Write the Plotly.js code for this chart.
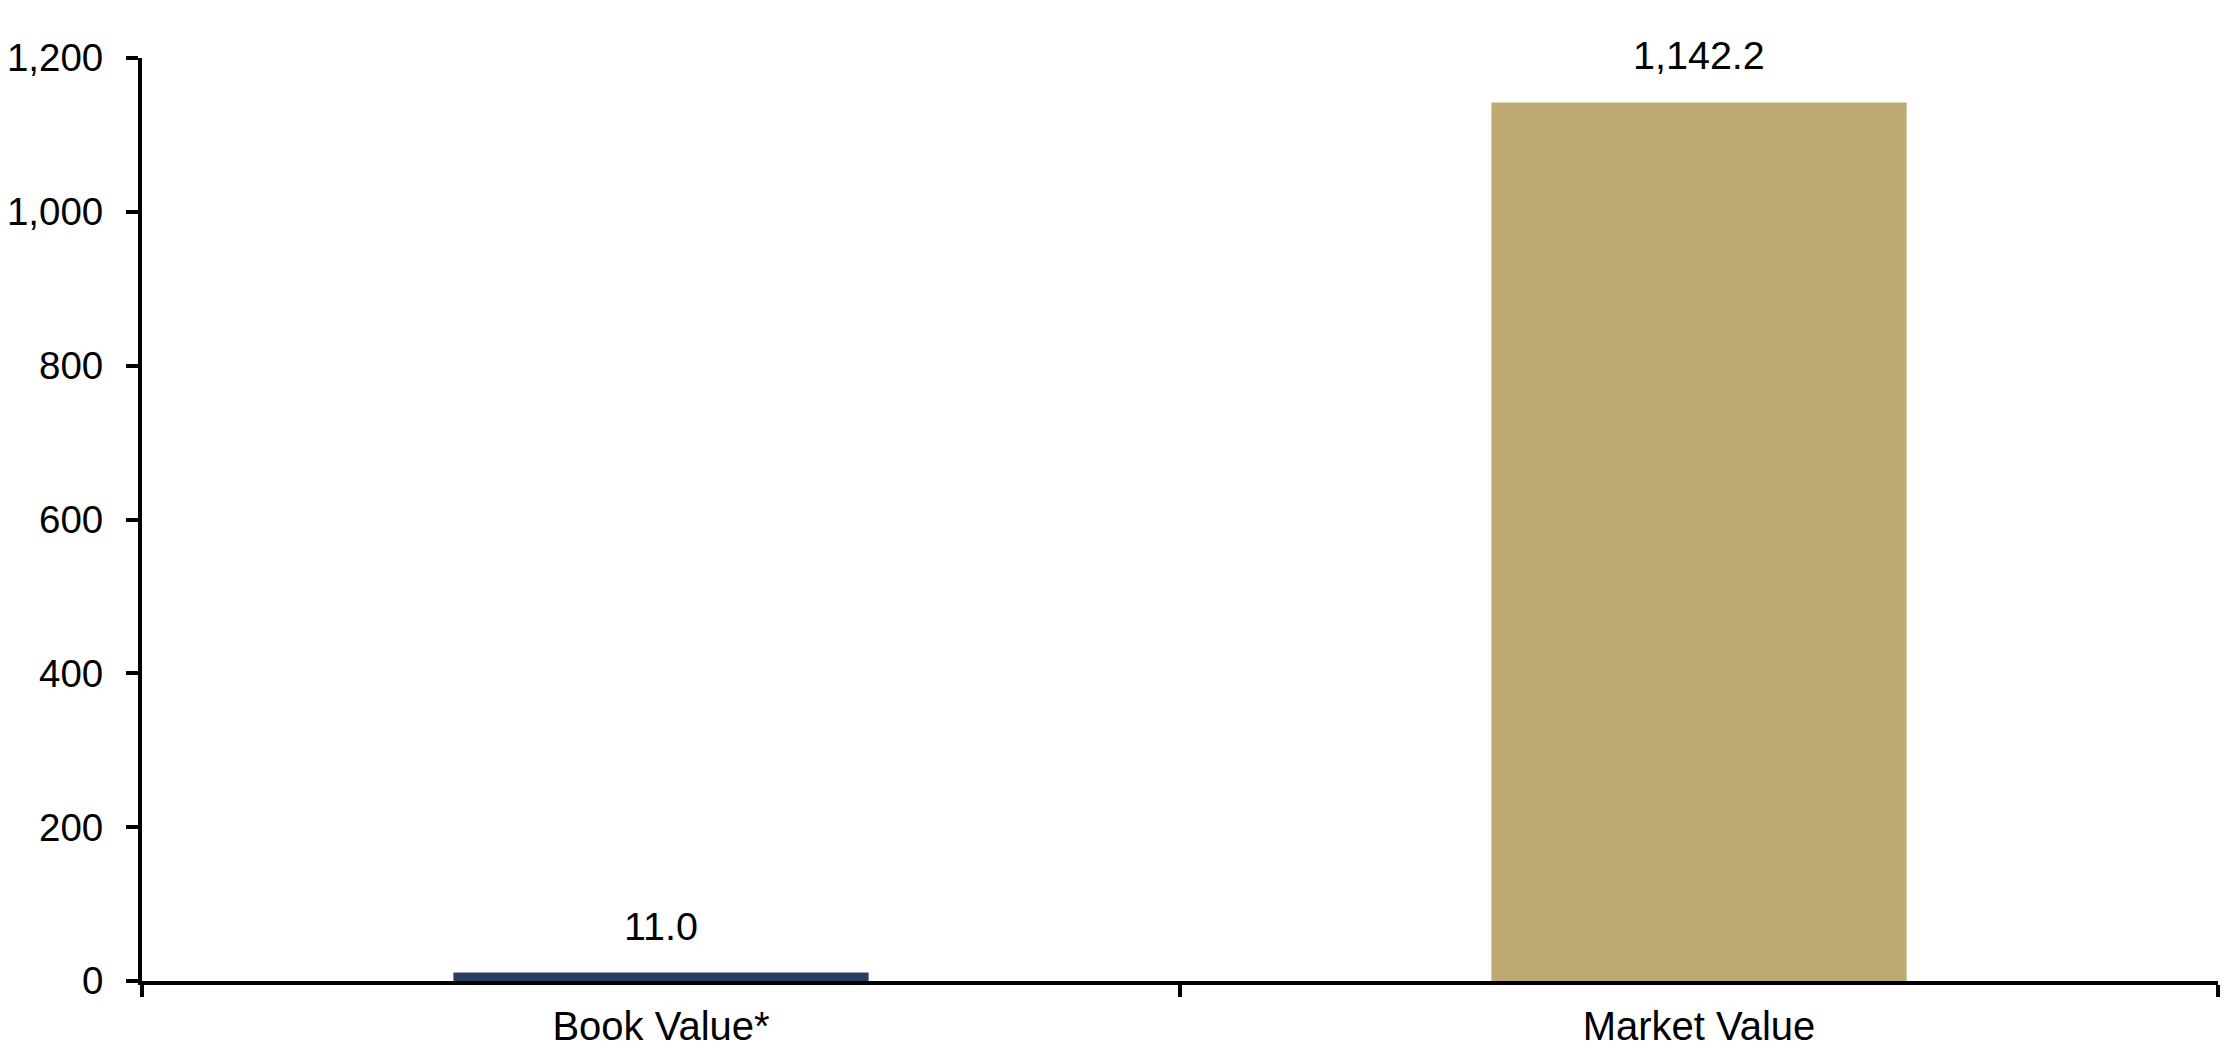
<!DOCTYPE html>
<html>
<head>
<meta charset="utf-8">
<script src="https://cdn.plot.ly/plotly-3.0.1.min.js"></script>
<style>
html,body{margin:0;padding:0;background:#fff;}
#chart{width:2234px;height:1064px;}
</style>
</head>
<body>
<div id="chart"></div>
<script>
var categories = ["Book Value*", "Market Value"];
var values = [11.0, 1142.2];
var barColors = ["#2E3E63", "#BEA975"];
var yTickVals = [0, 200, 400, 600, 800, 1000, 1200];

function fmt(v) {
  return v.toLocaleString("en-US", {minimumFractionDigits: 1, maximumFractionDigits: 1});
}

var FONT = "Liberation Sans, Arial, sans-serif";

var trace = {
  type: "bar",
  x: categories,
  y: values,
  marker: {color: barColors, line: {width: 0}},
  hoverinfo: "none",
  showlegend: false
};

var annotations = categories.map(function (c, i) {
  return {
    x: c, y: values[i], xref: "x", yref: "y",
    text: fmt(values[i]),
    showarrow: false,
    yanchor: "bottom",
    yshift: 23,
    font: {family: FONT, size: 39.5, color: "#000"}
  };
});

var layout = {
  width: 2234, height: 1064,
  margin: {l: 142, r: 16, t: 58, b: 83, pad: 0},
  paper_bgcolor: "#fff", plot_bgcolor: "#fff",
  bargap: 0.6,
  font: {family: FONT, size: 38, color: "#000"},
  xaxis: {
    type: "category",
    showline: true, linecolor: "#000", linewidth: 4,
    ticks: "outside", tickson: "boundaries", ticklen: 12, tickwidth: 4, tickcolor: "#000",
    showgrid: false, zeroline: false,
    tickfont: {family: FONT, size: 40, color: "#000"},
    ticklabelstandoff: 7
  },
  yaxis: {
    range: [0, 1200],
    tickvals: yTickVals,
    ticktext: yTickVals.map(function (v) { return v.toLocaleString("en-US"); }),
    showline: true, linecolor: "#000", linewidth: 4,
    ticks: "outside", ticklen: 12, tickwidth: 4, tickcolor: "#000",
    showgrid: false, zeroline: false,
    tickfont: {family: FONT, size: 38.5, color: "#000"},
    ticklabelstandoff: 15
  },
  annotations: annotations
};

Plotly.newPlot("chart", [trace], layout, {displayModeBar: false, staticPlot: true});
</script>
</body>
</html>
